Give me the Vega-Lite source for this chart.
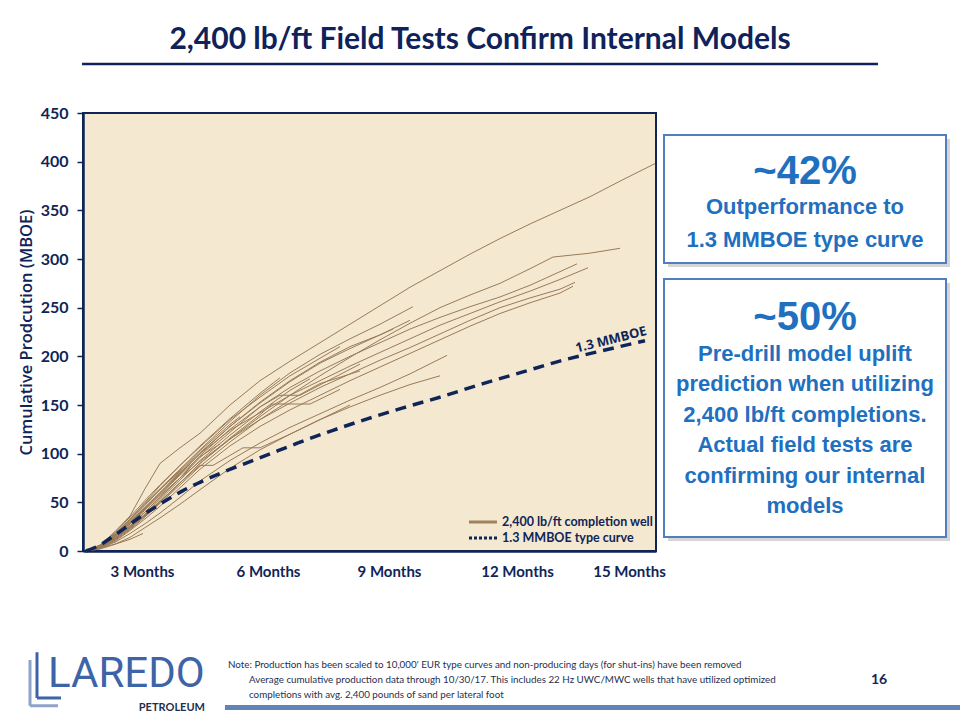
{
  "$schema": "https://vega.github.io/schema/vega-lite/v6.json",
  "width": 573,
  "height": 438,
  "autosize": {"type": "none"},
  "padding": {"left": 83, "top": 113, "right": 304, "bottom": 169},
  "background": "white",
  "config": {
    "view": {"fill": "#f4e9d0", "stroke": "#0f2557", "strokeWidth": 2},
    "text": {"font": "Lato", "color": "#0f2557"}
  },
  "datasets": {
    "wells": [
      {"w":"W1","t":3,"v":0},{"w":"W1","t":17,"v":6},{"w":"W1","t":32,"v":20},{"w":"W1","t":47,"v":36},{"w":"W1","t":62,"v":64},{"w":"W1","t":77,"v":90},{"w":"W1","t":97,"v":106},{"w":"W1","t":117,"v":121},{"w":"W1","t":147,"v":150},{"w":"W1","t":177,"v":175},{"w":"W1","t":207,"v":195},{"w":"W1","t":237,"v":214},{"w":"W1","t":267,"v":233},{"w":"W1","t":297,"v":252},{"w":"W1","t":327,"v":271},{"w":"W1","t":357,"v":288},{"w":"W1","t":387,"v":305},{"w":"W1","t":417,"v":321},{"w":"W1","t":447,"v":336},{"w":"W1","t":477,"v":350},{"w":"W1","t":507,"v":364},{"w":"W1","t":537,"v":380},{"w":"W1","t":572,"v":398},
      {"w":"W2","t":3,"v":0},{"w":"W2","t":17,"v":5},{"w":"W2","t":32,"v":15},{"w":"W2","t":47,"v":28},{"w":"W2","t":62,"v":42},{"w":"W2","t":77,"v":57},{"w":"W2","t":97,"v":75},{"w":"W2","t":117,"v":92},{"w":"W2","t":147,"v":115},{"w":"W2","t":177,"v":138},{"w":"W2","t":207,"v":160},{"w":"W2","t":237,"v":180},{"w":"W2","t":267,"v":199},{"w":"W2","t":297,"v":217},{"w":"W2","t":327,"v":234},{"w":"W2","t":357,"v":250},{"w":"W2","t":387,"v":263},{"w":"W2","t":417,"v":275},{"w":"W2","t":447,"v":290},{"w":"W2","t":470,"v":302},{"w":"W2","t":507,"v":306},{"w":"W2","t":537,"v":311},
      {"w":"W3","t":3,"v":0},{"w":"W3","t":17,"v":4},{"w":"W3","t":32,"v":13},{"w":"W3","t":47,"v":26},{"w":"W3","t":62,"v":40},{"w":"W3","t":77,"v":55},{"w":"W3","t":97,"v":75},{"w":"W3","t":117,"v":98},{"w":"W3","t":147,"v":125},{"w":"W3","t":177,"v":148},{"w":"W3","t":207,"v":168},{"w":"W3","t":237,"v":185},{"w":"W3","t":267,"v":200},{"w":"W3","t":297,"v":214},{"w":"W3","t":327,"v":228},{"w":"W3","t":357,"v":240},{"w":"W3","t":387,"v":251},{"w":"W3","t":417,"v":261},{"w":"W3","t":447,"v":273},{"w":"W3","t":477,"v":287},{"w":"W3","t":494,"v":295},
      {"w":"W4","t":3,"v":0},{"w":"W4","t":17,"v":5},{"w":"W4","t":32,"v":15},{"w":"W4","t":47,"v":29},{"w":"W4","t":62,"v":44},{"w":"W4","t":77,"v":59},{"w":"W4","t":97,"v":79},{"w":"W4","t":117,"v":100},{"w":"W4","t":147,"v":124},{"w":"W4","t":177,"v":142},{"w":"W4","t":207,"v":160},{"w":"W4","t":237,"v":175},{"w":"W4","t":267,"v":190},{"w":"W4","t":297,"v":204},{"w":"W4","t":327,"v":218},{"w":"W4","t":357,"v":232},{"w":"W4","t":387,"v":244},{"w":"W4","t":417,"v":256},{"w":"W4","t":447,"v":267},{"w":"W4","t":477,"v":279},{"w":"W4","t":505,"v":291},
      {"w":"W5","t":3,"v":0},{"w":"W5","t":17,"v":4},{"w":"W5","t":32,"v":12},{"w":"W5","t":47,"v":24},{"w":"W5","t":62,"v":37},{"w":"W5","t":77,"v":51},{"w":"W5","t":97,"v":70},{"w":"W5","t":117,"v":90},{"w":"W5","t":147,"v":115},{"w":"W5","t":177,"v":135},{"w":"W5","t":207,"v":152},{"w":"W5","t":237,"v":168},{"w":"W5","t":267,"v":182},{"w":"W5","t":297,"v":196},{"w":"W5","t":327,"v":209},{"w":"W5","t":357,"v":223},{"w":"W5","t":387,"v":237},{"w":"W5","t":417,"v":250},{"w":"W5","t":447,"v":260},{"w":"W5","t":477,"v":269},{"w":"W5","t":492,"v":276},
      {"w":"W6","t":3,"v":0},{"w":"W6","t":17,"v":3},{"w":"W6","t":32,"v":10},{"w":"W6","t":47,"v":21},{"w":"W6","t":62,"v":33},{"w":"W6","t":77,"v":46},{"w":"W6","t":97,"v":65},{"w":"W6","t":117,"v":84},{"w":"W6","t":147,"v":108},{"w":"W6","t":177,"v":128},{"w":"W6","t":207,"v":145},{"w":"W6","t":237,"v":160},{"w":"W6","t":267,"v":175},{"w":"W6","t":297,"v":189},{"w":"W6","t":327,"v":203},{"w":"W6","t":357,"v":217},{"w":"W6","t":387,"v":231},{"w":"W6","t":417,"v":244},{"w":"W6","t":447,"v":255},{"w":"W6","t":477,"v":265},{"w":"W6","t":490,"v":272},
      {"w":"W7","t":3,"v":0},{"w":"W7","t":17,"v":6},{"w":"W7","t":32,"v":18},{"w":"W7","t":47,"v":33},{"w":"W7","t":62,"v":49},{"w":"W7","t":77,"v":64},{"w":"W7","t":97,"v":84},{"w":"W7","t":117,"v":104},{"w":"W7","t":147,"v":133},{"w":"W7","t":177,"v":160},{"w":"W7","t":207,"v":183},{"w":"W7","t":237,"v":202},{"w":"W7","t":267,"v":218},{"w":"W7","t":297,"v":233},{"w":"W7","t":330,"v":251},
      {"w":"W8","t":3,"v":0},{"w":"W8","t":17,"v":5},{"w":"W8","t":32,"v":16},{"w":"W8","t":47,"v":30},{"w":"W8","t":62,"v":45},{"w":"W8","t":77,"v":60},{"w":"W8","t":97,"v":80},{"w":"W8","t":117,"v":100},{"w":"W8","t":147,"v":128},{"w":"W8","t":177,"v":152},{"w":"W8","t":207,"v":174},{"w":"W8","t":237,"v":193},{"w":"W8","t":267,"v":208},{"w":"W8","t":297,"v":222},{"w":"W8","t":327,"v":237},
      {"w":"W9","t":3,"v":0},{"w":"W9","t":17,"v":3},{"w":"W9","t":32,"v":9},{"w":"W9","t":47,"v":18},{"w":"W9","t":62,"v":28},{"w":"W9","t":77,"v":39},{"w":"W9","t":97,"v":55},{"w":"W9","t":117,"v":72},{"w":"W9","t":147,"v":93},{"w":"W9","t":177,"v":111},{"w":"W9","t":207,"v":127},{"w":"W9","t":237,"v":141},{"w":"W9","t":267,"v":155},{"w":"W9","t":297,"v":168},{"w":"W9","t":327,"v":182},{"w":"W9","t":364,"v":201},
      {"w":"W10","t":3,"v":0},{"w":"W10","t":17,"v":3},{"w":"W10","t":32,"v":7},{"w":"W10","t":47,"v":12},{"w":"W10","t":60,"v":18},
      {"w":"W11","t":3,"v":0},{"w":"W11","t":17,"v":5},{"w":"W11","t":32,"v":17},{"w":"W11","t":47,"v":32},{"w":"W11","t":62,"v":48},{"w":"W11","t":77,"v":63},{"w":"W11","t":97,"v":82},{"w":"W11","t":117,"v":101},{"w":"W11","t":147,"v":128},{"w":"W11","t":177,"v":153},{"w":"W11","t":207,"v":175},{"w":"W11","t":237,"v":194},{"w":"W11","t":267,"v":210},{"w":"W11","t":297,"v":222},{"w":"W11","t":310,"v":228},
      {"w":"W12","t":3,"v":0},{"w":"W12","t":17,"v":2},{"w":"W12","t":32,"v":7},{"w":"W12","t":47,"v":14},{"w":"W12","t":62,"v":24},{"w":"W12","t":77,"v":34},{"w":"W12","t":97,"v":48},{"w":"W12","t":117,"v":63},{"w":"W12","t":147,"v":85},{"w":"W12","t":177,"v":104},{"w":"W12","t":207,"v":120},{"w":"W12","t":237,"v":135},{"w":"W12","t":267,"v":148},{"w":"W12","t":297,"v":160},{"w":"W12","t":327,"v":171},{"w":"W12","t":357,"v":180},
      {"w":"W13","t":3,"v":0},{"w":"W13","t":17,"v":4},{"w":"W13","t":32,"v":13},{"w":"W13","t":47,"v":26},{"w":"W13","t":62,"v":40},{"w":"W13","t":77,"v":55},{"w":"W13","t":97,"v":75},{"w":"W13","t":117,"v":96},{"w":"W13","t":147,"v":122},{"w":"W13","t":177,"v":148},{"w":"W13","t":197,"v":160},{"w":"W13","t":217,"v":160},{"w":"W13","t":247,"v":176},{"w":"W13","t":277,"v":192},
      {"w":"W14","t":3,"v":0},{"w":"W14","t":17,"v":4},{"w":"W14","t":32,"v":12},{"w":"W14","t":47,"v":24},{"w":"W14","t":62,"v":37},{"w":"W14","t":77,"v":51},{"w":"W14","t":97,"v":70},{"w":"W14","t":117,"v":90},{"w":"W14","t":147,"v":116},{"w":"W14","t":177,"v":140},{"w":"W14","t":189,"v":151},{"w":"W14","t":227,"v":151},{"w":"W14","t":257,"v":166},
      {"w":"W15","t":3,"v":0},{"w":"W15","t":17,"v":4},{"w":"W15","t":32,"v":12},{"w":"W15","t":47,"v":23},{"w":"W15","t":62,"v":36},{"w":"W15","t":77,"v":50},{"w":"W15","t":97,"v":70},{"w":"W15","t":117,"v":88},{"w":"W15","t":130,"v":88},{"w":"W15","t":160,"v":106},{"w":"W15","t":177,"v":106},{"w":"W15","t":207,"v":120},{"w":"W15","t":237,"v":135},{"w":"W15","t":267,"v":150},
      {"w":"W16","t":3,"v":0},{"w":"W16","t":17,"v":5},{"w":"W16","t":32,"v":16},{"w":"W16","t":47,"v":31},{"w":"W16","t":62,"v":47},{"w":"W16","t":77,"v":63},{"w":"W16","t":97,"v":83},{"w":"W16","t":117,"v":103},{"w":"W16","t":147,"v":130},{"w":"W16","t":157,"v":138},
      {"w":"W17","t":3,"v":0},{"w":"W17","t":17,"v":6},{"w":"W17","t":32,"v":19},{"w":"W17","t":47,"v":35},{"w":"W17","t":62,"v":52},{"w":"W17","t":77,"v":68},{"w":"W17","t":97,"v":88},{"w":"W17","t":117,"v":108},{"w":"W17","t":147,"v":136},{"w":"W17","t":177,"v":162},{"w":"W17","t":197,"v":178},
      {"w":"W18","t":3,"v":0},{"w":"W18","t":17,"v":4},{"w":"W18","t":32,"v":14},{"w":"W18","t":47,"v":28},{"w":"W18","t":62,"v":43},{"w":"W18","t":77,"v":58},{"w":"W18","t":97,"v":78},{"w":"W18","t":117,"v":97},{"w":"W18","t":137,"v":110},
      {"w":"W19","t":3,"v":0},{"w":"W19","t":17,"v":5},{"w":"W19","t":32,"v":15},{"w":"W19","t":47,"v":29},{"w":"W19","t":62,"v":44},{"w":"W19","t":77,"v":60},{"w":"W19","t":97,"v":81},{"w":"W19","t":107,"v":89},
      {"w":"W20","t":3,"v":0},{"w":"W20","t":17,"v":4},{"w":"W20","t":32,"v":13},{"w":"W20","t":47,"v":25},{"w":"W20","t":62,"v":38},{"w":"W20","t":77,"v":53},{"w":"W20","t":97,"v":73},{"w":"W20","t":117,"v":93},{"w":"W20","t":147,"v":119},{"w":"W20","t":177,"v":143},{"w":"W20","t":207,"v":165},{"w":"W20","t":227,"v":177},
      {"w":"W21","t":3,"v":0},{"w":"W21","t":17,"v":5},{"w":"W21","t":32,"v":17},{"w":"W21","t":47,"v":33},{"w":"W21","t":62,"v":50},{"w":"W21","t":77,"v":67},{"w":"W21","t":97,"v":88},{"w":"W21","t":117,"v":107},{"w":"W21","t":147,"v":135},{"w":"W21","t":177,"v":158},{"w":"W21","t":207,"v":180},{"w":"W21","t":237,"v":198},{"w":"W21","t":257,"v":210},
      {"w":"W22","t":3,"v":0},{"w":"W22","t":17,"v":3},{"w":"W22","t":32,"v":11},{"w":"W22","t":47,"v":22},{"w":"W22","t":62,"v":35},{"w":"W22","t":77,"v":49},{"w":"W22","t":97,"v":68},{"w":"W22","t":117,"v":87},{"w":"W22","t":147,"v":112},{"w":"W22","t":177,"v":135},{"w":"W22","t":207,"v":155},{"w":"W22","t":237,"v":172},{"w":"W22","t":277,"v":185}
    ],
    "typecurve": [
      {"t":3,"v":0},{"t":15,"v":5},{"t":30,"v":15},{"t":45,"v":26},{"t":60,"v":37},{"t":80,"v":50},{"t":100,"v":62},{"t":120,"v":72},{"t":140,"v":81},{"t":160,"v":89},{"t":185,"v":99},{"t":215,"v":111},{"t":250,"v":124},{"t":285,"v":136},{"t":320,"v":147},{"t":360,"v":159},{"t":400,"v":172},{"t":440,"v":184},{"t":480,"v":196},{"t":520,"v":206},{"t":562,"v":216}
    ]
  },
  "layer": [
    {
      "data": {"name": "wells"},
      "mark": {"type": "line", "color": "#9a7a57", "strokeWidth": 1, "interpolate": "linear"},
      "encoding": {
        "x": {"field": "t", "type": "quantitative", "scale": {"domain": [0, 573], "nice": false, "zero": false},
          "axis": {"values": [59, 185, 306, 434, 546], "labelExpr": "datum.value < 100 ? '3 Months' : datum.value < 250 ? '6 Months' : datum.value < 350 ? '9 Months' : datum.value < 500 ? '12 Months' : '15 Months'",
            "title": null, "ticks": false, "grid": false, "domainColor": "#0f2557", "domainWidth": 2.5,
            "labelFont": "Lato", "labelFontSize": 15, "labelFontWeight": "bold", "labelColor": "#0f2557", "labelPadding": 13, "labelFlush": false, "labelOverlap": false}},
        "y": {"field": "v", "type": "quantitative", "scale": {"domain": [0, 450], "nice": false},
          "axis": {"values": [0, 50, 100, 150, 200, 250, 300, 350, 400, 450], "title": "Cumulative Prodcution (MBOE)", "grid": false,
            "domainColor": "#0f2557", "domainWidth": 2.5, "tickColor": "#0f2557", "tickSize": 6, "tickWidth": 1.5,
            "labelFont": "Lato", "labelFontSize": 16, "labelFontWeight": "bold", "labelColor": "#0f2557", "labelPadding": 9,
            "titleFont": "Open Sans", "titleFontSize": 16.5, "titleFontWeight": 600, "titleColor": "#0f2557", "titlePadding": 6}},
        "detail": {"field": "w", "type": "nominal"}
      }
    },
    {
      "data": {"name": "typecurve"},
      "mark": {"type": "line", "color": "#0f2557", "strokeWidth": 3.5, "strokeDash": [11, 7], "interpolate": "monotone"},
      "encoding": {
        "x": {"field": "t", "type": "quantitative"},
        "y": {"field": "v", "type": "quantitative"}
      }
    },
    {
      "data": {"values": [{}]},
      "mark": {"type": "text", "text": "1.3 MMBOE", "angle": -14, "fontSize": 13, "fontWeight": "bold", "font": "Open Sans", "align": "center", "baseline": "middle", "color": "#0f2557"},
      "encoding": {"x": {"datum": 528, "type": "quantitative"}, "y": {"datum": 217, "type": "quantitative"}}
    },
    {
      "data": {"values": [{}]},
      "mark": {"type": "rule", "color": "#a08260", "strokeWidth": 3},
      "encoding": {"x": {"datum": 386, "type": "quantitative"}, "x2": {"datum": 414}, "y": {"datum": 29.8, "type": "quantitative"}}
    },
    {
      "data": {"values": [{}]},
      "mark": {"type": "rule", "color": "#0f2557", "strokeWidth": 3, "strokeDash": [3, 2]},
      "encoding": {"x": {"datum": 386, "type": "quantitative"}, "x2": {"datum": 414}, "y": {"datum": 13.4, "type": "quantitative"}}
    },
    {
      "data": {"values": [{}]},
      "mark": {"type": "text", "text": "2,400 lb/ft completion well", "fontSize": 12.5, "fontWeight": "bold", "align": "left", "baseline": "middle", "color": "#0f2557"},
      "encoding": {"x": {"datum": 419, "type": "quantitative"}, "y": {"datum": 29.8, "type": "quantitative"}}
    },
    {
      "data": {"values": [{}]},
      "mark": {"type": "text", "text": "1.3 MMBOE  type curve", "fontSize": 12.5, "fontWeight": "bold", "align": "left", "baseline": "middle", "color": "#0f2557"},
      "encoding": {"x": {"datum": 419, "type": "quantitative"}, "y": {"datum": 13.4, "type": "quantitative"}}
    },
    {
      "data": {"values": [{}]},
      "mark": {"type": "text", "text": "2,400 lb/ft Field Tests Confirm Internal Models", "fontSize": 30, "fontWeight": "bold", "align": "center", "baseline": "middle", "color": "#10225a"},
      "encoding": {"x": {"datum": 397, "type": "quantitative"}, "y": {"datum": 525, "type": "quantitative"}}
    },
    {
      "data": {"values": [{}]},
      "mark": {"type": "rule", "color": "#10225a", "strokeWidth": 2.5},
      "encoding": {"x": {"datum": -1, "type": "quantitative"}, "x2": {"datum": 795}, "y": {"datum": 500.3, "type": "quantitative"}}
    },
    {
      "data": {"values": [{}]},
      "mark": {"type": "rect", "color": "#b9b9b9", "opacity": 0.6},
      "encoding": {"x": {"datum": 585, "type": "quantitative"}, "x2": {"datum": 867}, "y": {"datum": 291.8, "type": "quantitative"}, "y2": {"datum": 423.3}}
    },
    {
      "data": {"values": [{}]},
      "mark": {"type": "rect", "color": "#b9b9b9", "opacity": 0.6},
      "encoding": {"x": {"datum": 585, "type": "quantitative"}, "x2": {"datum": 867}, "y": {"datum": 10.3, "type": "quantitative"}, "y2": {"datum": 275.3}}
    },
    {
      "data": {"values": [{}]},
      "mark": {"type": "rect", "fill": "white", "stroke": "#4f7fbf", "strokeWidth": 2},
      "encoding": {"x": {"datum": 581, "type": "quantitative"}, "x2": {"datum": 863}, "y": {"datum": 295.9, "type": "quantitative"}, "y2": {"datum": 427.4}}
    },
    {
      "data": {"values": [{}]},
      "mark": {"type": "rect", "fill": "white", "stroke": "#4f7fbf", "strokeWidth": 2},
      "encoding": {"x": {"datum": 581, "type": "quantitative"}, "x2": {"datum": 863}, "y": {"datum": 14.4, "type": "quantitative"}, "y2": {"datum": 279.5}}
    },
    {
      "data": {"values": [{}]},
      "mark": {"type": "text", "text": "~42%", "font": "Liberation Sans", "fontSize": 40, "fontWeight": "bold", "align": "center", "baseline": "middle", "color": "#2170bf"},
      "encoding": {"x": {"datum": 722, "type": "quantitative"}, "y": {"datum": 389.4, "type": "quantitative"}}
    },
    {
      "data": {"values": [{}]},
      "mark": {"type": "text", "text": ["Outperformance to", "1.3 MMBOE type curve"], "lineHeight": 33, "font": "Liberation Sans", "fontSize": 22, "fontWeight": "bold", "align": "center", "baseline": "middle", "color": "#2170bf"},
      "encoding": {"x": {"datum": 722, "type": "quantitative"}, "y": {"datum": 353.4, "type": "quantitative"}}
    },
    {
      "data": {"values": [{}]},
      "mark": {"type": "text", "text": "~50%", "font": "Liberation Sans", "fontSize": 40, "fontWeight": "bold", "align": "center", "baseline": "middle", "color": "#2170bf"},
      "encoding": {"x": {"datum": 722, "type": "quantitative"}, "y": {"datum": 239.4, "type": "quantitative"}}
    },
    {
      "data": {"values": [{}]},
      "mark": {"type": "text", "text": ["Pre-drill model uplift", "prediction when utilizing", "2,400 lb/ft completions.", "Actual field tests are", "confirming our internal", "models"], "lineHeight": 30.4, "font": "Liberation Sans", "fontSize": 22, "fontWeight": "bold", "align": "center", "baseline": "middle", "color": "#2170bf"},
      "encoding": {"x": {"datum": 722, "type": "quantitative"}, "y": {"datum": 202.4, "type": "quantitative"}}
    },
    {
      "data": {"values": [{}]},
      "mark": {"type": "text", "text": "Note: Production has been scaled to 10,000' EUR type curves and non-producing days (for shut-ins) have been removed", "fontSize": 9.8, "align": "left", "baseline": "middle", "color": "#1f2f4f"},
      "encoding": {"x": {"datum": 145, "type": "quantitative"}, "y": {"datum": -117.1, "type": "quantitative"}}
    },
    {
      "data": {"values": [{}]},
      "mark": {"type": "text", "text": ["Average cumulative production data through 10/30/17. This includes 22 Hz UWC/MWC wells that have utilized optimized", "completions with avg. 2,400 pounds of sand per lateral foot"], "lineHeight": 15, "fontSize": 9.8, "align": "left", "baseline": "middle", "color": "#1f2f4f"},
      "encoding": {"x": {"datum": 166, "type": "quantitative"}, "y": {"datum": -132.5, "type": "quantitative"}}
    },
    {
      "data": {"values": [{}]},
      "mark": {"type": "text", "text": "16", "fontSize": 14, "fontWeight": "bold", "align": "center", "baseline": "middle", "color": "#0f2557"},
      "encoding": {"x": {"datum": 796, "type": "quantitative"}, "y": {"datum": -132.5, "type": "quantitative"}}
    },
    {
      "data": {"values": [{}]},
      "mark": {"type": "rect", "color": "#6283b8"},
      "encoding": {"x": {"datum": 142, "type": "quantitative"}, "x2": {"datum": 877}, "y": {"datum": -158.2, "type": "quantitative"}, "y2": {"datum": -163.4}}
    },
    {
      "data": {"values": [{}]},
      "mark": {"type": "text", "text": "LAREDO", "font": "Roboto", "fontSize": 42, "fontWeight": 400, "align": "left", "baseline": "middle", "color": "#3e64a8"},
      "encoding": {"x": {"datum": -35, "type": "quantitative"}, "y": {"datum": -126.4, "type": "quantitative"}}
    },
    {
      "data": {"values": [{}]},
      "mark": {"type": "text", "text": "PETROLEUM", "font": "Lato", "fontSize": 11, "fontWeight": "bold", "align": "right", "baseline": "middle", "color": "#1f2f4f"},
      "encoding": {"x": {"datum": 122, "type": "quantitative"}, "y": {"datum": -161.3, "type": "quantitative"}}
    },
    {
      "data": {"values": [{}]},
      "mark": {"type": "rule", "color": "#8ea3c9", "strokeWidth": 3},
      "encoding": {"x": {"datum": -53, "type": "quantitative"}, "y": {"datum": -112, "type": "quantitative"}, "y2": {"datum": -159}}
    },
    {
      "data": {"values": [{}]},
      "mark": {"type": "rule", "color": "#8ea3c9", "strokeWidth": 3},
      "encoding": {"x": {"datum": -53, "type": "quantitative"}, "x2": {"datum": -25}, "y": {"datum": -159, "type": "quantitative"}}
    },
    {
      "data": {"values": [{}]},
      "mark": {"type": "rule", "color": "#3e64a8", "strokeWidth": 3},
      "encoding": {"x": {"datum": -46, "type": "quantitative"}, "y": {"datum": -104, "type": "quantitative"}, "y2": {"datum": -151}}
    },
    {
      "data": {"values": [{}]},
      "mark": {"type": "rule", "color": "#3e64a8", "strokeWidth": 3},
      "encoding": {"x": {"datum": -46, "type": "quantitative"}, "x2": {"datum": -22}, "y": {"datum": -151, "type": "quantitative"}}
    }
  ]
}
